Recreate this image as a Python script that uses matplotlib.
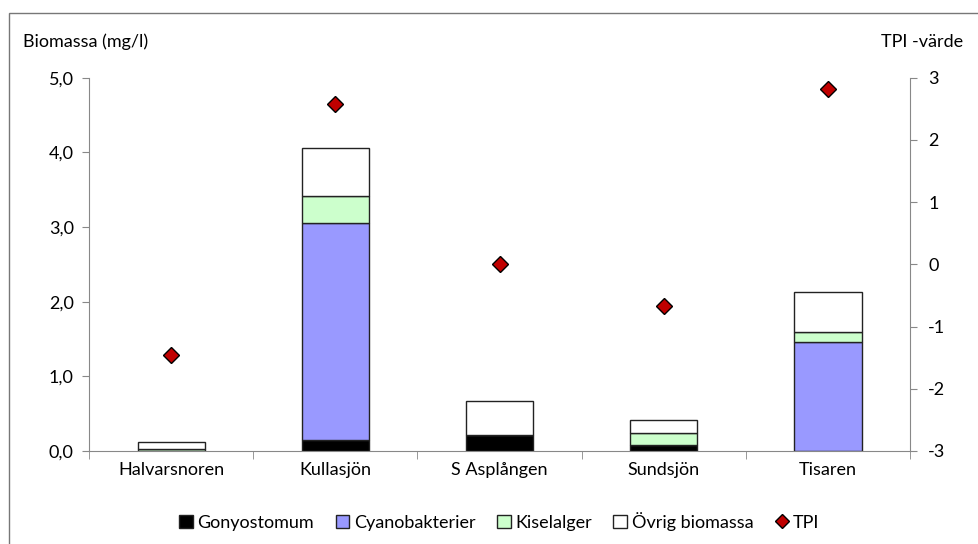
import matplotlib.pyplot as plt
from matplotlib.patches import Rectangle
from matplotlib.lines import Line2D
from matplotlib.ticker import FuncFormatter

plt.rcParams['font.family'] = ['Lato', 'DejaVu Sans']
plt.rcParams['axes.unicode_minus'] = False

lakes = ['Halvarsnoren', 'Kullasjön', 'S Asplången', 'Sundsjön', 'Tisaren']
gonyo = [0.0, 0.15, 0.21, 0.08, 0.0]
cyano = [0.0, 2.90, 0.0, 0.0, 1.46]
kisel = [0.03, 0.37, 0.0, 0.165, 0.14]
ovrig = [0.09, 0.64, 0.46, 0.175, 0.53]
tpi = [-1.46, 2.58, 0.0, -0.67, 2.82]

fs = 13

fig = plt.figure(figsize=(9.79, 5.44), dpi=100)
ax1 = fig.add_axes([0.091, 0.171, 0.8385, 0.686])

x = range(len(lakes))
w = 0.41
edge = '#222222'
b1 = ax1.bar(x, gonyo, w, color='black', edgecolor=edge, lw=1, label='Gonyostomum')
bot = list(gonyo)
b2 = ax1.bar(x, cyano, w, bottom=bot, color='#9999FF', edgecolor=edge, lw=1, label='Cyanobakterier')
bot = [a + b for a, b in zip(bot, cyano)]
b3 = ax1.bar(x, kisel, w, bottom=bot, color='#CCFFCC', edgecolor=edge, lw=1, label='Kiselalger')
bot = [a + b for a, b in zip(bot, kisel)]
b4 = ax1.bar(x, ovrig, w, bottom=bot, color='white', edgecolor=edge, lw=1, label='Övrig biomassa')

ax1.set_xlim(-0.5, 4.5)
ax1.set_ylim(0, 5)
ax1.set_yticks([0, 1, 2, 3, 4, 5])
ax1.yaxis.set_major_formatter(FuncFormatter(lambda v, p: f'{v:.1f}'.replace('.', ',')))
ax1.set_xticks(list(x))
ax1.set_xticklabels(lakes)
ax1.set_xticks([i + 0.5 for i in range(-1, 5)], minor=True)
ax1.tick_params(axis='x', which='major', length=0, pad=8, labelsize=fs)
ax1.tick_params(axis='x', which='minor', length=6, color='#888888', direction='out')
ax1.tick_params(axis='y', length=5, color='#888888', labelsize=fs, pad=6)
for s in ['top', 'right']:
    ax1.spines[s].set_visible(False)
for s in ['left', 'bottom']:
    ax1.spines[s].set_color('#888888')

ax2 = ax1.twinx()
ax2.plot(x, tpi, linestyle='none', marker='D', markersize=8.5, color='#C00000',
         markeredgecolor='black', markeredgewidth=1, label='TPI')
ax2.set_ylim(-3, 3)
ax2.set_yticks([-3, -2, -1, 0, 1, 2, 3])
ax2.tick_params(axis='y', length=5, color='#888888', labelsize=fs, pad=8)
for s in ['top', 'left', 'bottom']:
    ax2.spines[s].set_visible(False)
ax2.spines['right'].set_color('#888888')

fig.text(0.024, 0.923, 'Biomassa (mg/l)', fontsize=fs, va='center')
fig.text(0.984, 0.923, 'TPI -värde', fontsize=fs, ha='right', va='center')

handles = [b1, b2, b3, b4,
           Line2D([], [], linestyle='none', marker='D', markersize=7, color='#C00000',
                  markeredgecolor='black')]
fig.legend(handles, ['Gonyostomum', 'Cyanobakterier', 'Kiselalger', 'Övrig biomassa', 'TPI'],
           loc='center', bbox_to_anchor=(0.51, 0.042), ncol=5, frameon=False, fontsize=fs,
           handlelength=0.75, handleheight=0.75, handletextpad=0.25, columnspacing=1.2)

fig.patches.append(Rectangle((0.009, -0.1), 1.2, 1.076, transform=fig.transFigure,
                             fill=False, edgecolor='#777777', lw=1))

fig.savefig('out.png', dpi=100)
